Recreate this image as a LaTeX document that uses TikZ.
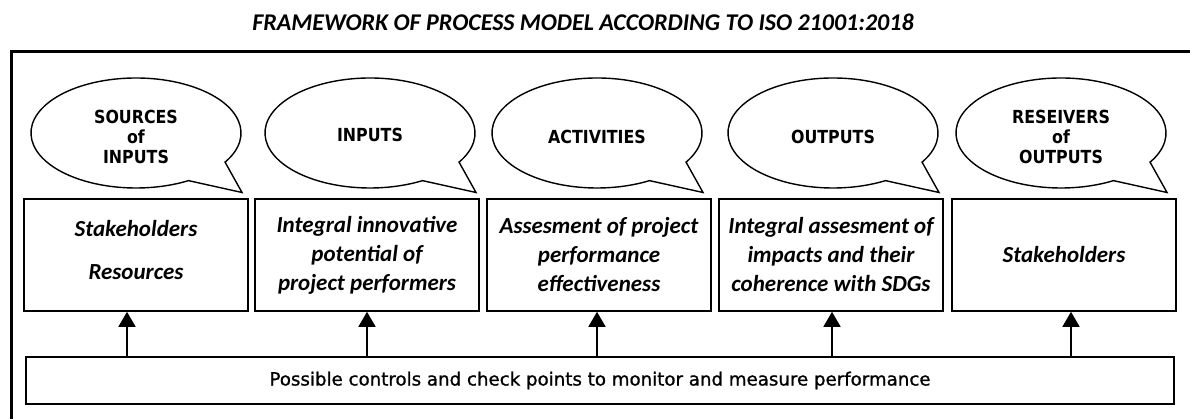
\documentclass[tikz,border=0pt]{standalone}
\usepackage{fontspec}
\setmainfont{Carlito}
\newfontfamily\tahoma{DejaVu Sans}[FakeStretch=0.88]
\newfontfamily\verdana{DejaVu Sans}[FakeBold=1]
\usetikzlibrary{arrows.meta}

\begin{document}
\begin{tikzpicture}[x=1pt,y=1pt,
  bubble/.style={draw,line width=1.4pt},
  bubbletext/.style={font=\tahoma\bfseries\fontsize{18}{20}\selectfont,align=center},
  box/.style={draw,line width=1.6pt,minimum width=224pt,minimum height=112pt,inner sep=0pt,
    font=\bfseries\itshape\fontsize{23}{29}\selectfont,align=center},
  up/.style={-{Triangle[width=17pt,length=15pt]},line width=1.6pt}]
\useasboundingbox (0,0) rectangle (1190,419);
% title and frame
\node[font=\bfseries\itshape\fontsize{24}{28}\selectfont] (title) at (583,397)
  {FRAMEWORK OF PROCESS MODEL ACCORDING TO ISO 21001:2018};
\draw[line width=3pt] (11,-20) rectangle (1210,367.5);
% speech bubbles
\foreach \cx in {136,370,597,833,1061}
  \draw[bubble] (\cx,286) ++(-32:105 and 55)
    arc[start angle=-32,end angle=300,x radius=105pt,y radius=55pt]
    -- (\cx+106,226.5) -- cycle;
\node[bubbletext] (srcin) at (136,282) {SOURCES\\of\\INPUTS};
\node[bubbletext] (inp) at (370,284) {INPUTS};
\node[bubbletext] (act) at (597,282) {ACTIVITIES};
\node[bubbletext] (outp) at (833,282) {OUTPUTS};
\node[bubbletext] (recout) at (1061,282) {RESEIVERS\\of\\OUTPUTS};
% boxes
\node[box] (src) at (136,164) {Stakeholders\\[14pt]Resources\\[-27pt]\strut};
\node[box] (pot) at (367,164) {Integral innovative\\potential of\\project performers};
\node[box] (eff) at (599,164) {Assesment of project\\performance\\effectiveness};
\node[box] (imp) at (831,164) {Integral assesment of\\impacts and their\\coherence with SDGs};
\node[box] (rec) at (1064,164) {Stakeholders};
% control bar
\node[draw,line width=1.6pt,minimum width=1148pt,minimum height=47pt,
  font=\verdana\fontsize{18.2}{20}\selectfont] (bar) at (600,38.5)
  {Possible controls and check points to monitor and measure performance};
\draw[up] (bar.north -| 127,0) -- (src.south -| 127,0);
\draw[up] (bar.north -| 367,0) -- (pot.south -| 367,0);
\draw[up] (bar.north -| 597,0) -- (eff.south -| 597,0);
\draw[up] (bar.north -| 832,0) -- (imp.south -| 832,0);
\draw[up] (bar.north -| 1071,0) -- (rec.south -| 1071,0);
\end{tikzpicture}
\end{document}
